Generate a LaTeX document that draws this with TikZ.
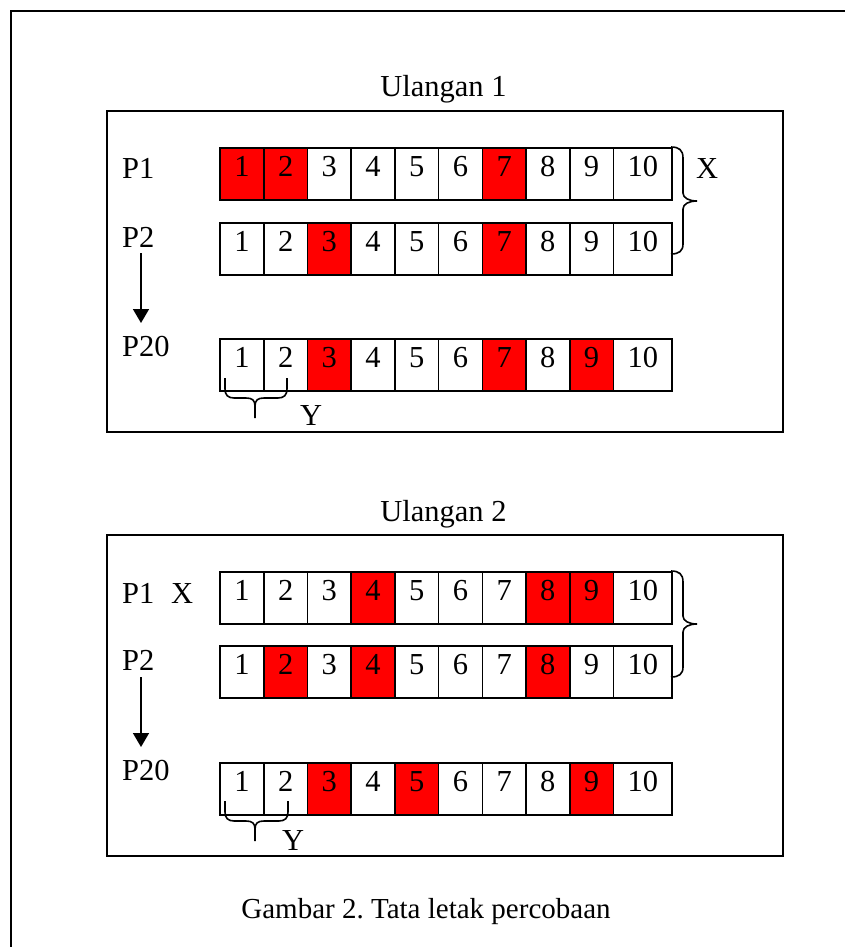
\documentclass[tikz,border=0pt]{standalone}
\usepackage{fontspec}
\setmainfont{Liberation Serif}
\usetikzlibrary{arrows.meta}
\frenchspacing
\tikzset{
  cellbox/.style={draw, line width=1.6pt, minimum height=52pt, inner sep=0pt,
    text height=20pt, text depth=14.6pt, anchor=north west, font=\fontsize{30.5}{36}\selectfont},
  lbl/.style={inner sep=0pt, anchor=base west, font=\fontsize{30.5}{36}\selectfont},
  ttl/.style={inner sep=0pt, anchor=base, font=\fontsize{30.5}{36}\selectfont},
  captxt/.style={inner sep=0pt, anchor=base, font=\fontsize{29}{34}\selectfont},
  boxline/.style={line width=1.6pt},
  bracestyle/.style={line width=1.6pt},
  arr/.style={line width=1.6pt, -{Triangle[length=14pt,width=16pt]}},
  framestyle/.style={line width=2.2pt}
}
\newcommand\cellrow[3]{%
  \foreach \i in {1,...,10}{%
    \gdef\cf{white}%
    \foreach \r in {#3}{\ifnum\r=\i \gdef\cf{red}\fi}%
    \ifnum\i=10 \def\cw{58.7}\else\def\cw{43.7}\fi
    \node[cellbox, fill=\cf, minimum width=\cw pt] (#1-\i) at ({219.3+(\i-1)*43.7},#2) {\i};
  }%
}
\begin{document}
\begin{tikzpicture}[x=1pt,y=-1pt]
\useasboundingbox (0,0) rectangle (845,947);
% outer frame
\draw[framestyle] (11,947) -- (11,11) -- (845,11);

% ---------- Ulangan 1 ----------
\node[ttl] (u1) at (443.5,97) {Ulangan 1};
\draw[boxline] (107,111) rectangle (783,432);
\node[lbl] (u1p1) at (122,178) {P1};
\node[lbl] (u1p2) at (122,247) {P2};
\node[lbl] (u1p20) at (122,356) {P20};
\cellrow{ra}{147}{1,2,7}
\cellrow{rb}{222}{3,7}
\cellrow{rc}{338}{3,7,9}
\coordinate (a1s) at (141,253);
\coordinate (a1e) at (141,323);
\draw[arr] (a1s) -- (a1e);
\draw[bracestyle] (671,147) .. controls (679,147) and (683,150) .. (683,158) -- (683,193)
  .. controls (683,198) and (689,201) .. (697,201)
  .. controls (689,201) and (683,204) .. (683,209) -- (683,244)
  .. controls (683,251) and (679,254) .. (671,254);
\node[lbl] (u1x) at (696,178) {X};
\draw[bracestyle] (225,378) -- (225,389) .. controls (225,395) and (228,398) .. (234,398) -- (246,398)
  .. controls (252,398) and (255,400) .. (255,406) -- (255,418)
  (255,406) .. controls (255,400) and (258,398) .. (264,398) -- (278,398)
  .. controls (284,398) and (287,395) .. (287,389) -- (287,378);
\node[lbl] (u1y) at (300,425) {Y};

% ---------- Ulangan 2 ----------
\node[ttl] (u2) at (443.5,521) {Ulangan 2};
\draw[boxline] (107,535) rectangle (783,856);
\node[lbl] (u2p1) at (122,603) {P1};
\node[lbl] (u2x) at (171,603) {X};
\node[lbl] (u2p2) at (122,670) {P2};
\node[lbl] (u2p20) at (122,780) {P20};
\cellrow{sa}{571}{4,8,9}
\cellrow{sb}{645}{2,4,8}
\cellrow{sc}{762}{3,5,9}
\coordinate (a2s) at (141,677);
\coordinate (a2e) at (141,747);
\draw[arr] (a2s) -- (a2e);
\draw[bracestyle] (671,571) .. controls (679,571) and (683,574) .. (683,582) -- (683,616)
  .. controls (683,621) and (689,624) .. (697,624)
  .. controls (689,624) and (683,627) .. (683,632) -- (683,667)
  .. controls (683,674) and (679,677) .. (671,677);
\draw[bracestyle] (225,801) -- (225,812) .. controls (225,818) and (228,821) .. (234,821) -- (246,821)
  .. controls (252,821) and (255,823) .. (255,829) -- (255,841)
  (255,829) .. controls (255,823) and (258,821) .. (264,821) -- (279,821)
  .. controls (285,821) and (288,818) .. (288,812) -- (288,801);
\node[lbl] (u2y) at (282,850) {Y};

% caption
\node[captxt] (cap) at (426,918) {Gambar 2. Tata letak percobaan};
\end{tikzpicture}
\end{document}
